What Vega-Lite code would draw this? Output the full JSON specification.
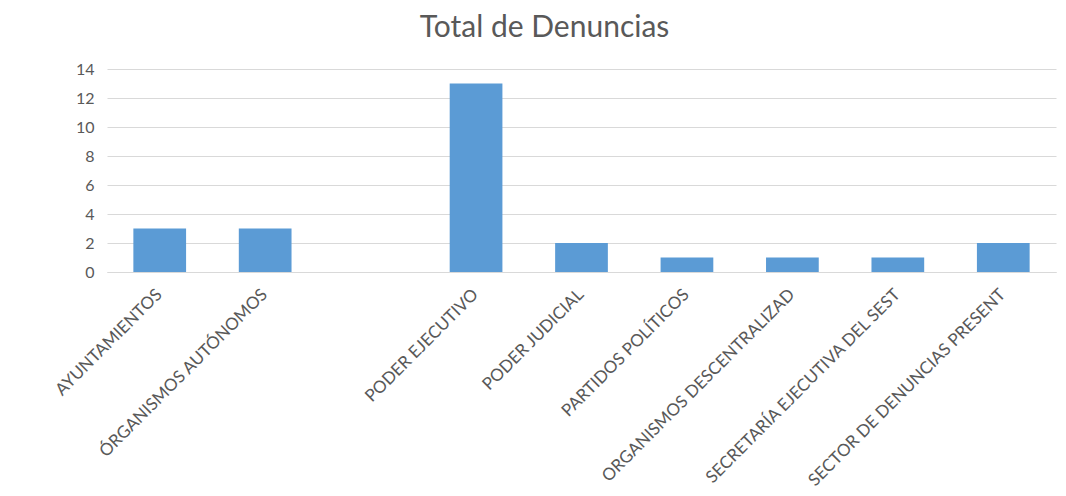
{
  "$schema": "https://vega.github.io/schema/vega-lite/v6.json",
  "autosize": "none",
  "width": 949,
  "height": 203,
  "padding": {"left": 107, "top": 69, "right": 10, "bottom": 224},
  "background": "white",
  "title": {"text": "Total de Denuncias", "font": "Lato", "fontSize": 30, "fontWeight": "normal", "color": "#595959", "anchor": "middle", "dx": -37, "offset": 18},
  "data": {"values": [
    {"sector": "AYUNTAMIENTOS", "total": 3},
    {"sector": "ÓRGANISMOS AUTÓNOMOS", "total": 3},
    {"sector": " ", "total": null},
    {"sector": "PODER EJECUTIVO", "total": 13},
    {"sector": "PODER JUDICIAL", "total": 2},
    {"sector": "PARTIDOS POLÍTICOS", "total": 1},
    {"sector": "ORGANISMOS DESCENTRALIZAD", "total": 1},
    {"sector": "SECRETARÍA EJECUTIVA DEL SEST", "total": 1},
    {"sector": "SECTOR DE DENUNCIAS PRESENT", "total": 2}
  ]},
  "mark": {"type": "bar", "color": "#5B9BD5"},
  "encoding": {
    "x": {"field": "sector", "type": "nominal", "sort": null, "title": null,
      "scale": {"domain": ["AYUNTAMIENTOS", "ÓRGANISMOS AUTÓNOMOS", " ", "PODER EJECUTIVO", "PODER JUDICIAL", "PARTIDOS POLÍTICOS", "ORGANISMOS DESCENTRALIZAD", "SECRETARÍA EJECUTIVA DEL SEST", "SECTOR DE DENUNCIAS PRESENT"], "paddingInner": 0.5, "paddingOuter": 0.25},
      "axis": {"labelAngle": -45, "labelFont": "Lato", "labelFontSize": 17, "labelColor": "#595959", "ticks": false, "domainColor": "#d9d9d9", "labelPadding": 14, "labelOffset": -6, "labelLimit": 400}},
    "y": {"field": "total", "type": "quantitative", "title": null,
      "scale": {"domain": [0, 14], "nice": false},
      "axis": {"values": [0, 2, 4, 6, 8, 10, 12, 14], "domain": false, "ticks": false, "labelFont": "Lato", "labelFontSize": 16, "labelColor": "#595959", "labelPadding": 13, "gridColor": "#d9d9d9"}}
  },
  "config": {"view": {"stroke": null}}
}
